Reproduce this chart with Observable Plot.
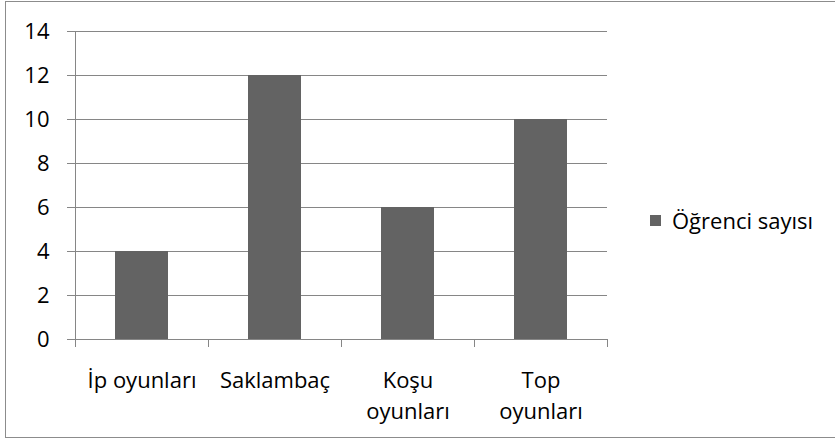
<!DOCTYPE html>
<html>
<head>
<meta charset="utf-8">
<script src="https://cdn.jsdelivr.net/npm/d3@7"></script>
<script src="https://cdn.jsdelivr.net/npm/@observablehq/plot@0.6"></script>
<style>
  html, body { margin: 0; padding: 0; background: #fff; overflow: hidden; }
  #wrap { position: relative; width: 835px; height: 440px; overflow: hidden; font-family: "Open Sans", sans-serif; }
  #border { position: absolute; left: 5px; top: 1px; width: 840px; height: 435px; border: 1px solid #8c8c8c; border-right: none; pointer-events: none; }
  #chart { position: absolute; left: 0; top: 0; }
  #legend { position: absolute; left: 650px; top: 205px; display: flex; align-items: center; font-size: 22px; color: #000; white-space: nowrap; }
  #legend .sw { width: 11px; height: 11px; background: #636363; margin-right: 11px; }
</style>
</head>
<body>
<div id="wrap">
  <div id="chart"></div>
  <div id="legend"><span class="sw"></span><span id="legtext"></span></div>
  <div id="border"></div>
</div>
<script>
const categories = ["İp oyunları", "Saklambaç", "Koşu oyunları", "Top oyunları"];
const tickLabels = ["İp oyunları", "Saklambaç", "Koşu\noyunları", "Top\noyunları"];
const values = [4, 12, 6, 10];
const yTicks = [0, 2, 4, 6, 8, 10, 12, 14];
const seriesName = "Öğrenci sayısı";

const W = 835, H = 440, mL = 75, mR = 228, mT = 31, mB = 101;
const bw = (W - mL - mR) / categories.length;
const barColor = "#636363";
const gridColor = "#868686";

const data = categories.map((c, i) => ({cat: c, value: values[i]}));

const chart = Plot.plot({
  width: W,
  height: H,
  marginLeft: mL,
  marginRight: mR,
  marginTop: mT,
  marginBottom: mB,
  style: {fontFamily: "'Open Sans', sans-serif", fontSize: "22px", color: "#000", background: "transparent", overflow: "visible"},
  x: {type: "band", domain: categories, padding: 0, label: null},
  y: {domain: [0, 14], label: null},
  marks: [
    Plot.gridY(yTicks, {stroke: gridColor, strokeOpacity: 1, strokeWidth: 1}),
    Plot.barY(data, {x: "cat", y: "value", fill: barColor, insetLeft: 40, insetRight: 40}),
    Plot.ruleX([categories[0]], {x: d => d, y1: 14, y2: 0, dx: -bw / 2, insetBottom: -8, stroke: gridColor}),
    Plot.ruleX(categories.slice(1), {x: d => d, y1: 0, y2: 0, dx: -bw / 2, insetBottom: -8, stroke: gridColor}),
    Plot.ruleX([categories[categories.length - 1]], {x: d => d, y1: 0, y2: 0, dx: bw / 2, insetBottom: -8, stroke: gridColor}),
    Plot.axisY({ticks: yTicks, tickSize: 8, tickPadding: 18, stroke: gridColor, fill: "#000", label: null}),
    Plot.axisX({tickSize: 0, tickPadding: 27, lineHeight: 1.4, fill: "#000", label: null,
      tickFormat: d => tickLabels[categories.indexOf(d)]})
  ]
});
document.getElementById("chart").appendChild(chart);
document.getElementById("legtext").textContent = seriesName;
</script>
</body>
</html>
